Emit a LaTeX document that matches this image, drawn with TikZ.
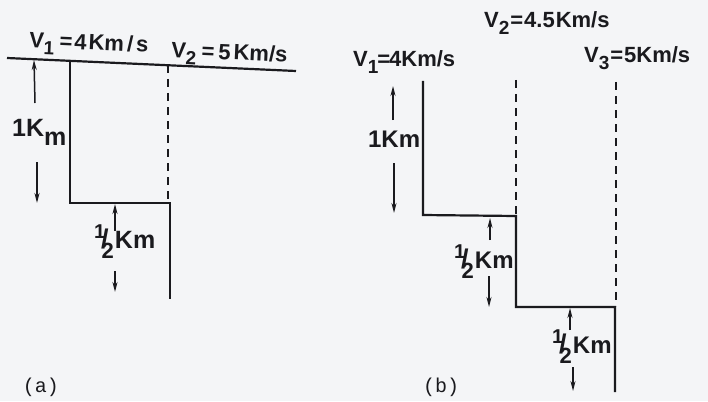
\documentclass[tikz,border=0pt]{standalone}
\usepackage{fontspec}
\setmainfont{Liberation Sans}
\newfontfamily\lettering{Liberation Sans}
\newfontfamily\monof{Liberation Mono}
\usetikzlibrary{arrows.meta}
\definecolor{paper}{RGB}{244,245,247}
\definecolor{ink}{RGB}{26,26,30}
\newcommand\lowsub[1]{\raisebox{-7pt}{\fontsize{19}{19}\selectfont #1}}
\newcommand\halfsym{{\fontsize{20}{20}\selectfont\raisebox{10pt}{1}\kern-4pt\raisebox{0pt}{\fontsize{27}{27}\selectfont /}\kern-7pt\raisebox{-10pt}{\fontsize{22}{22}\selectfont 2}}}
\begin{document}
\begin{tikzpicture}[x=1pt,y=-1pt,
  ink, line width=2.2pt,
  profile/.style={draw=ink, line width=2.2pt, line join=miter},
  boundary/.style={draw=ink, line width=1.8pt, dash pattern=on 8pt off 6pt},
  dimarrow/.style={draw=ink, line width=1.5pt, -{Stealth[length=10pt,width=5pt]}},
  vlabel/.style={font=\lettering\bfseries\fontsize{22}{24}\selectfont, inner sep=0pt, anchor=base west, text=ink},
  dimlabel/.style={font=\lettering\bfseries\fontsize{24}{26}\selectfont, inner sep=0pt, anchor=base west, text=ink},
  panellabel/.style={font=\monof\fontsize{20}{22}\selectfont, inner sep=0pt, text=ink}]
\fill[paper] (0,0) rectangle (708,401);
\useasboundingbox (0,0) rectangle (708,401);

% ---------- panel (a) ----------
\coordinate (aSurfL) at (7,58);
\coordinate (aSurfR) at (296,71);
\draw[profile] (aSurfL) -- (aSurfR);
\coordinate (aP1) at (70,60);
\coordinate (aP2) at (70,203);
\coordinate (aP3) at (170,203);
\coordinate (aP4) at (170,299);
\draw[profile] (aP1) -- (aP2) -- (aP3) -- (aP4);
\coordinate (aD1) at (168,65);
\coordinate (aD2) at (168,202);
\draw[boundary] (aD1) -- (aD2);

\node[vlabel, rotate=-2.6] (aV1) at (28,47) {V\lowsub{1}\kern5pt=\kern2pt4\kern2pt Km\kern3pt/\kern3pt s};
\node[vlabel, rotate=-2.6] (aV2) at (170,57) {V\lowsub{2}\kern5pt=\kern4pt5\kern3pt Km/s};

\node[dimlabel, font=\lettering\bfseries\fontsize{25}{27}\selectfont] (aH1) at (11,136) {1K\raisebox{-9pt}{m}};
\coordinate (aH1a) at (35,103);
\coordinate (aH1b) at (34,60);
\coordinate (aH1c) at (37,162);
\coordinate (aH1d) at (37,203);
\draw[dimarrow] (aH1a) -- (aH1b);
\draw[dimarrow] (aH1c) -- (aH1d);

\node[dimlabel, font=\lettering\bfseries\fontsize{25}{27}\selectfont] (aH2) at (93,248) {\halfsym\kern1pt Km};
\coordinate (aH2a) at (115,231);
\coordinate (aH2b) at (115,204);
\coordinate (aH2c) at (115,271);
\coordinate (aH2d) at (115,292);
\draw[dimarrow] (aH2a) -- (aH2b);
\draw[dimarrow] (aH2c) -- (aH2d);

\node[panellabel] (aLab) at (41,387) {(a)};

% ---------- panel (b) ----------
\coordinate (bP1) at (423,81);
\coordinate (bP2) at (423,215);
\coordinate (bP3) at (516,216);
\coordinate (bP4) at (516,307);
\coordinate (bP5) at (615,307);
\coordinate (bP6) at (615,392);
\draw[profile] (bP1) -- (bP2) -- (bP3) -- (bP4) -- (bP5) -- (bP6);
\coordinate (bD1) at (516,80);
\coordinate (bD2) at (516,215);
\draw[boundary] (bD1) -- (bD2);
\coordinate (bD3) at (616,82);
\coordinate (bD4) at (616,306);
\draw[boundary] (bD3) -- (bD4);

\node[vlabel] (bV1) at (352,67) {V\lowsub{1}\kern-1pt=\kern-1pt4Km/s};
\node[vlabel] (bV2) at (483,28) {V\lowsub{2}\kern1pt=\kern1pt4.5\kern1pt Km/s};
\node[vlabel] (bV3) at (583,63) {V\lowsub{3}\kern1pt=\kern1pt5Km/s};

\node[dimlabel] (bH1) at (367,147) {1Km};
\coordinate (bH1a) at (393,120);
\coordinate (bH1b) at (393,86);
\coordinate (bH1c) at (394,163);
\coordinate (bH1d) at (394,213);
\draw[dimarrow] (bH1a) -- (bH1b);
\draw[dimarrow] (bH1c) -- (bH1d);

\node[dimlabel] (bH2) at (453,268) {\halfsym\kern1pt Km};
\coordinate (bH2a) at (490,240);
\coordinate (bH2b) at (490,218);
\coordinate (bH2c) at (489,276);
\coordinate (bH2d) at (489,307);
\draw[dimarrow] (bH2a) -- (bH2b);
\draw[dimarrow] (bH2c) -- (bH2d);

\node[dimlabel] (bH3) at (551,353) {\halfsym\kern1pt Km};
\coordinate (bH3a) at (570,330);
\coordinate (bH3b) at (570,308);
\coordinate (bH3c) at (573,367);
\coordinate (bH3d) at (573,391);
\draw[dimarrow] (bH3a) -- (bH3b);
\draw[dimarrow] (bH3c) -- (bH3d);

\node[panellabel] (bLab) at (441,387) {(b)};
\end{tikzpicture}
\end{document}
